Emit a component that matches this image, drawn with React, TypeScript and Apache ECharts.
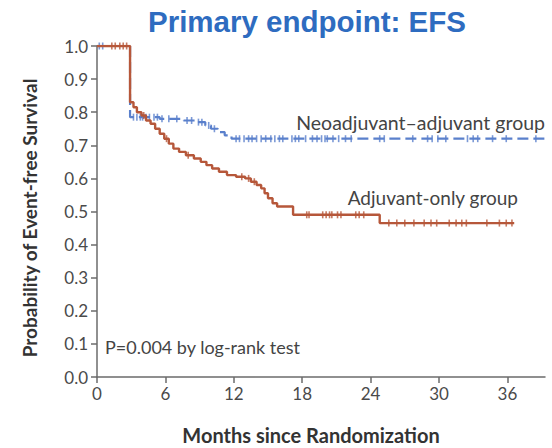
import React, { useEffect, useRef } from "react";
import * as echarts from "echarts";

// Kaplan-Meier event steps (time in months, survival after the step)
const neoTimes = [0, 2.9, 5.5, 7.6, 8.6, 9.5, 10.0, 10.6, 11.2, 11.8];
const neoSurv = [1.0, 0.785, 0.78, 0.775, 0.77, 0.76, 0.75, 0.74, 0.73, 0.72];
const neoEnd = 39.3;
const neoCensor = [0.2, 0.5, 3.2, 3.5, 3.8, 4.0, 4.3, 4.6, 5.0, 5.3, 5.7, 6.3, 7.0, 7.9, 8.3, 8.9, 9.2, 9.8, 10.3,
  12.2, 12.5, 12.9, 13.3, 13.6, 14.0, 14.4, 14.8, 15.25, 15.6, 16.0, 16.3, 17.1, 17.4, 17.7, 18.3, 18.9, 19.3, 19.7,
  20.0, 20.2, 20.7, 21.2, 21.8, 22.3, 24.8, 25.2, 27.7, 29.0, 29.4, 29.9, 30.6, 32.5, 33.0, 33.4, 34.7, 35.9, 38.5];

const adjTimes = [0, 2.9, 3.2, 3.5, 3.9, 4.3, 4.7, 5.1, 5.5, 5.9, 6.3, 6.7, 7.2, 7.8, 8.5, 9.1, 9.6, 10.1, 10.7,
  11.4, 12.2, 13.0, 13.5, 14.0, 14.4, 14.7, 15.0, 15.4, 15.8, 17.2, 24.8];
const adjSurv = [1.0, 0.83, 0.815, 0.8, 0.79, 0.775, 0.765, 0.75, 0.735, 0.72, 0.705, 0.69, 0.68, 0.67, 0.66, 0.65,
  0.64, 0.63, 0.62, 0.61, 0.605, 0.6, 0.59, 0.58, 0.57, 0.555, 0.54, 0.525, 0.515, 0.49, 0.465];
const adjEnd = 36.6;
const adjCensor = [1.3, 1.6, 2.0, 2.3, 2.6, 4.1, 6.1, 8.0, 12.7, 13.3, 13.8, 18.4, 18.6, 19.8, 20.1, 20.4, 20.6,
  21.1, 21.4, 22.7, 23.0, 23.4, 25.6, 26.3, 27.0, 27.8, 28.7, 29.3, 29.8, 30.9, 31.5, 32.0, 32.4, 34.2, 35.3, 35.9, 36.4];

const xTicks = [0, 6, 12, 18, 24, 30, 36];
const xMax = 39.3;

const BLUE = "#5A80CC";
const RED = "#B6573A";

function stepPoints(times: number[], surv: number[], end: number): number[][] {
  const pts: number[][] = [];
  for (let i = 0; i < times.length; i++) {
    if (i > 0) pts.push([times[i], surv[i - 1]]);
    pts.push([times[i], surv[i]]);
  }
  pts.push([end, surv[surv.length - 1]]);
  return pts;
}

function survAt(times: number[], surv: number[], t: number): number {
  let s = surv[0];
  for (let i = 0; i < times.length; i++) if (times[i] <= t) s = surv[i];
  return s;
}

export default function App() {
  const ref = useRef<HTMLDivElement>(null);
  useEffect(() => {
    if (!ref.current) return;
    const chart = echarts.init(ref.current, undefined, { renderer: "svg" });
    const neoPts = stepPoints(neoTimes, neoSurv, neoEnd);
    const neoSolid = neoPts.slice(0, 2);
    const neoDashed = neoPts.slice(1);
    const adjPts = stepPoints(adjTimes, adjSurv, adjEnd);
    const font = "Lato";
    chart.setOption({
      animation: false,
      grid: { left: 97, right: 7, top: 46, bottom: 71 },
      xAxis: {
        type: "value",
        min: 0,
        max: xMax,
        interval: 6,
        axisLine: { lineStyle: { color: "#6b6b6b", width: 1.5 } },
        axisTick: { show: true, length: 6, lineStyle: { color: "#6b6b6b", width: 1.5 }, customValues: xTicks },
        axisLabel: {
          customValues: xTicks,
          color: "#4a4a4a",
          fontFamily: font,
          fontSize: 17,
          margin: 8,
          formatter: (v: number) => (xTicks.indexOf(v) >= 0 ? String(v) : ""),
        },
        splitLine: { show: false },
      },
      yAxis: {
        type: "value",
        min: 0,
        max: 1,
        interval: 0.1,
        axisLine: { show: true, lineStyle: { color: "#6b6b6b", width: 1.5 } },
        axisTick: { show: true, length: 6, lineStyle: { color: "#6b6b6b", width: 1.5 } },
        axisLabel: {
          color: "#4a4a4a",
          fontFamily: font,
          fontSize: 17,
          margin: 9,
          formatter: (v: number) => v.toFixed(1),
        },
        splitLine: { show: false },
      },
      series: [
        {
          type: "line",
          data: neoSolid,
          symbol: "none",
          lineStyle: { color: BLUE, width: 2.2 },
          z: 2,
        },
        {
          type: "line",
          data: neoDashed,
          symbol: "none",
          lineStyle: { color: BLUE, width: 2.2, type: [11, 5] },
          z: 2,
        },
        {
          type: "scatter",
          data: neoCensor.map((t) => [t, survAt(neoTimes, neoSurv, t)]),
          symbol: "rect",
          symbolSize: [1.6, 7],
          itemStyle: { color: BLUE },
          z: 3,
        },
        {
          type: "line",
          data: adjPts,
          symbol: "none",
          lineStyle: { color: RED, width: 2.4 },
          z: 4,
        },
        {
          type: "scatter",
          data: adjCensor.map((t) => [t, survAt(adjTimes, adjSurv, t)]),
          symbol: "rect",
          symbolSize: [1.6, 7],
          itemStyle: { color: RED },
          z: 5,
        },
      ],
      graphic: [
        {
          type: "text",
          x: 307,
          y: 21,
          style: {
            text: "Primary endpoint: EFS",
            font: "bold 29.5px 'Liberation Sans', Arial, sans-serif",
            fill: "#2E6CC0",
            align: "center",
            verticalAlign: "middle",
          },
        },
        {
          type: "text",
          x: 29,
          y: 218,
          rotation: Math.PI / 2,
          style: {
            text: "Probability of Event-free Survival",
            font: "bold 19px Lato",
            fill: "#333333",
            align: "center",
            verticalAlign: "middle",
          },
        },
        {
          type: "text",
          x: 311,
          y: 435,
          style: {
            text: "Months since Randomization",
            font: "bold 20px Lato",
            fill: "#333333",
            align: "center",
            verticalAlign: "middle",
          },
        },
        {
          type: "text",
          x: 545,
          y: 122,
          style: {
            text: "Neoadjuvant\u2013adjuvant group",
            font: "19.5px Lato",
            fill: "#444444",
            align: "right",
            verticalAlign: "middle",
          },
        },
        {
          type: "text",
          x: 518,
          y: 197,
          style: {
            text: "Adjuvant-only group",
            font: "19px Lato",
            fill: "#444444",
            align: "right",
            verticalAlign: "middle",
          },
        },
        {
          type: "text",
          x: 105,
          y: 347,
          style: {
            text: "P=0.004 by log-rank test",
            font: "18px Lato",
            fill: "#444444",
            align: "left",
            verticalAlign: "middle",
          },
        },
      ],
    });
    return () => chart.dispose();
  }, []);
  return (
    <div
      ref={ref}
      style={{ position: "fixed", left: 0, top: 0, width: 552, height: 448, background: "#ffffff" }}
    />
  );
}
